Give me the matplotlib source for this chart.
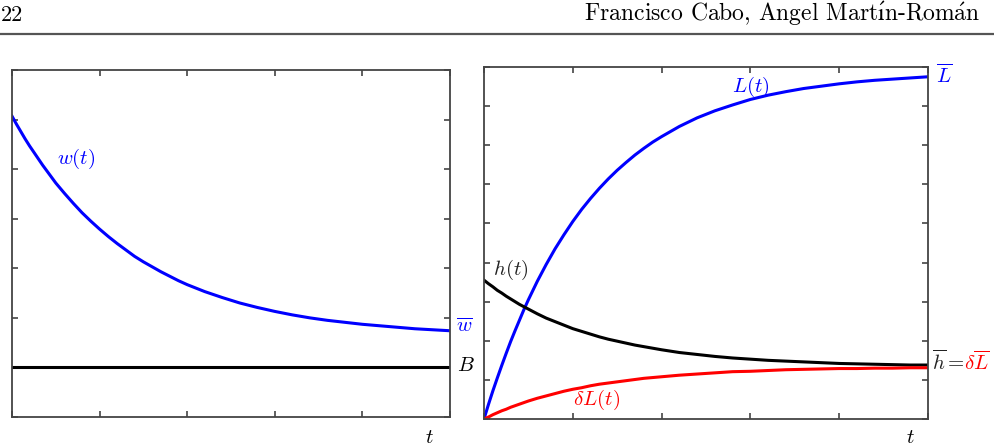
import matplotlib.pyplot as plt

plt.rcParams['mathtext.fontset'] = 'cm'

# time grid shared by both panels (denser where the curves bend most)
t = [0, 0.05, 0.1, 0.15, 0.2, 0.25, 0.3, 0.35, 0.4, 0.45, 0.5,
     0.6, 0.7, 0.8, 0.9, 1.0, 1.1, 1.2, 1.3, 1.4, 1.5, 1.6, 1.7, 1.8, 1.9, 2.0,
     2.2, 2.4, 2.6, 2.8, 3.0, 3.2, 3.4, 3.6, 3.8, 4.0, 4.2, 4.4, 4.6, 4.8, 5.0]

# left panel: wage path w(t) and outside option B
w = [6.07, 5.91, 5.76, 5.61, 5.47, 5.34, 5.21, 5.08, 4.96, 4.84, 4.72,
     4.51, 4.31, 4.12, 3.95, 3.79, 3.64, 3.50, 3.37, 3.24, 3.13, 3.03, 2.93,
     2.84, 2.75, 2.67,
     2.53, 2.41, 2.30, 2.21, 2.13, 2.06, 2.00, 1.95, 1.91, 1.87, 1.84, 1.81,
     1.78, 1.76, 1.74]
B = 1.0

# right panel: L(t), h(t) and delta*L(t)
L = [0, 0.37, 0.72, 1.05, 1.37, 1.68, 1.98, 2.26, 2.53, 2.80, 3.05,
     3.52, 3.95, 4.35, 4.71, 5.05, 5.36, 5.64, 5.90, 6.14, 6.36, 6.56, 6.75,
     6.92, 7.08, 7.22,
     7.48, 7.70, 7.88, 8.03, 8.17, 8.28, 8.37, 8.45, 8.51, 8.57, 8.62, 8.66,
     8.69, 8.72, 8.75]
h = [3.55, 3.46, 3.38, 3.29, 3.22, 3.14, 3.07, 3.00, 2.93, 2.87, 2.81,
     2.69, 2.58, 2.49, 2.40, 2.31, 2.24, 2.17, 2.10, 2.04, 1.99, 1.94, 1.89,
     1.85, 1.81, 1.77,
     1.70, 1.65, 1.60, 1.56, 1.53, 1.50, 1.48, 1.46, 1.44, 1.42, 1.41, 1.40,
     1.39, 1.38, 1.38]
dL = [0, 0.05, 0.11, 0.16, 0.21, 0.25, 0.30, 0.34, 0.38, 0.42, 0.46,
      0.53, 0.59, 0.65, 0.71, 0.76, 0.80, 0.85, 0.89, 0.92, 0.95, 0.98, 1.01,
      1.04, 1.06, 1.08,
      1.12, 1.15, 1.18, 1.21, 1.22, 1.24, 1.26, 1.27, 1.28, 1.29, 1.29, 1.30,
      1.30, 1.31, 1.31]

W, H = 994, 448
fig = plt.figure(figsize=(W / 100, H / 100), dpi=100)


def px_axes(x0, y0, x1, y1):
    return fig.add_axes([x0 / W, 1 - y1 / H, (x1 - x0) / W, (y1 - y0) / H])


def style(ax, ymax):
    ax.set_xlim(0, 5)
    ax.set_ylim(0, ymax)
    ax.set_xticks(range(6))
    ax.set_yticks(range(ymax + 1))
    ax.tick_params(direction='in', length=4.5, width=1.2, colors='#444444',
                   top=True, right=True, labelbottom=False, labelleft=False)
    for s in ax.spines.values():
        s.set_color('#444444')
        s.set_linewidth(1.3)


fs = 15
lw = 2.2

ax1 = px_axes(12, 70, 450, 417)
style(ax1, 7)
ax1.plot(t, w, color='blue', lw=lw, solid_joinstyle='round')
ax1.axhline(B, color='black', lw=lw)
ax1.text(0.73, 5.2, r'$w(t)$', color='blue', fontsize=fs, ha='center', va='center')
ax1.text(5.07, 1.84, r'$\overline{w}$', color='blue', fontsize=fs, ha='left', va='center')
ax1.text(5.08, 1.05, r'$B$', color='black', fontsize=fs, ha='left', va='center')
ax1.text(4.77, -0.40, r'$t$', fontsize=fs, ha='center', va='center')

ax2 = px_axes(484, 67, 928, 419)
style(ax2, 9)
ax2.plot(t, L, color='blue', lw=lw, solid_joinstyle='round')
ax2.plot(t, h, color='black', lw=lw, solid_joinstyle='round')
ax2.plot(t, dL, color='red', lw=lw, solid_joinstyle='round')
ax2.text(3.0, 8.49, r'$L(t)$', color='blue', fontsize=fs, ha='center', va='center')
ax2.text(5.09, 8.80, r'$\overline{L}$', color='blue', fontsize=fs, ha='left', va='center')
ax2.text(0.30, 3.81, r'$h(t)$', color='#222222', fontsize=fs, ha='center', va='center')
ax2.text(1.27, 0.49, r'$\delta L(t)$', color='red', fontsize=fs, ha='center', va='center')
hb = ax2.text(5.04, 1.46, r'$\overline{h}{=}$', color='#222222', fontsize=fs,
              ha='left', va='center')
ax2.annotate(r'$\delta\overline{L}$', xy=(1, 0.5), xycoords=hb, color='red',
             fontsize=fs, ha='left', va='center')
ax2.text(4.80, -0.46, r'$t$', fontsize=fs, ha='center', va='center')

# running page header
fig.text(1 / W, 1 - 21 / H, '22', family=['cmr10', 'DejaVu Serif'],
         fontsize=16, ha='left', va='baseline')
fig.text(584 / W, 1 - 21 / H,
         r'Francisco Cabo, $\mathrm{\acute{A}}$ngel Mart$\mathrm{\acute{ı}}$n-Rom$\mathrm{\acute{a}}$n',
         family=['cmr10', 'DejaVu Serif'], fontsize=17, ha='left', va='baseline')
fig.add_artist(plt.Line2D([0, 1], [1 - 34 / H, 1 - 34 / H], color='#555555',
                          lw=1.6, transform=fig.transFigure))

fig.savefig('out.png', dpi=100)
